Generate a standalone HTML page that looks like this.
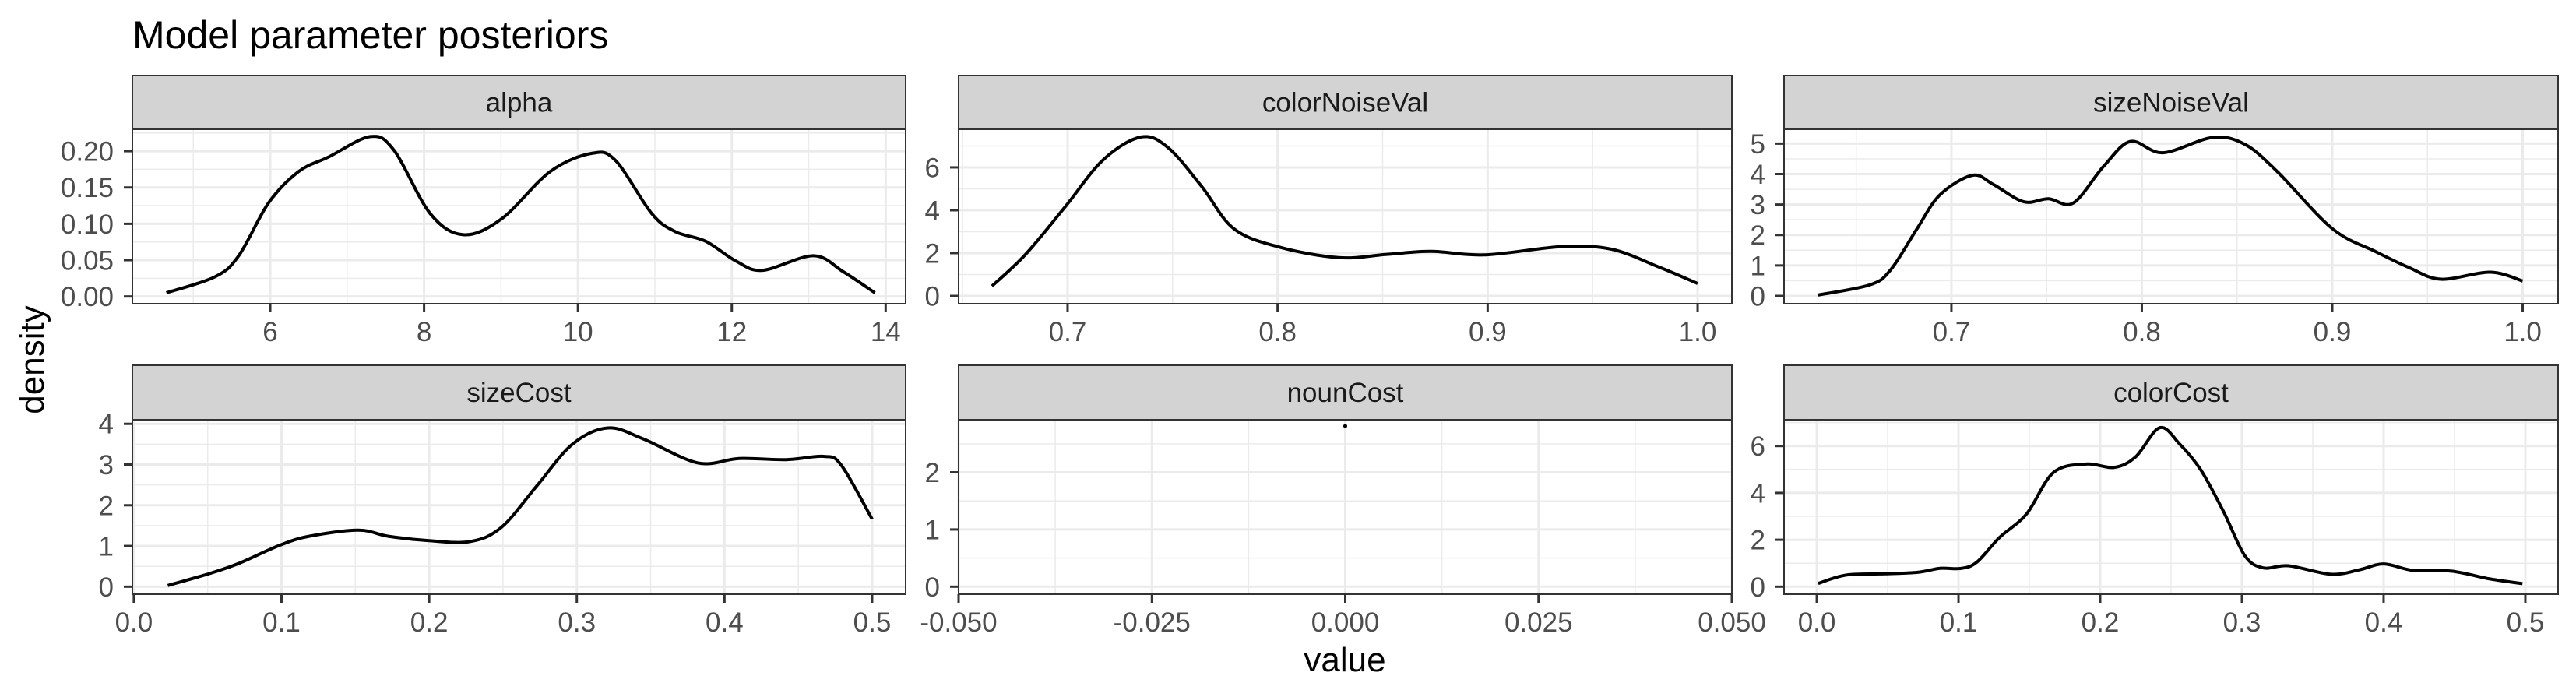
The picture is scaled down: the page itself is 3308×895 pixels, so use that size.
<!DOCTYPE html>
<html>
<head>
<meta charset="utf-8">
<style>
html,body{margin:0;padding:0;background:#fff;}
svg{display:block;font-family:"Liberation Sans",Arial,sans-serif;}
</style>
</head>
<body>
<svg id="chart" width="3308" height="895" viewBox="0 0 3308 895" xmlns="http://www.w3.org/2000/svg">
<rect x="0" y="0" width="3308" height="895" fill="#ffffff"/>
<text x="170" y="62" font-size="50" fill="#000">Model parameter posteriors</text>
<text x="0" y="0" font-size="44" fill="#000" text-anchor="middle" transform="translate(56,462) rotate(-90)">density</text>
<text x="1727" y="862" font-size="44" fill="#000" text-anchor="middle">value</text>
<g id="panels"></g>
</svg>
<script>
// ---- data ----
const panelNames = ["alpha","colorNoiseVal","sizeNoiseVal","sizeCost","nounCost","colorCost"];

const alphaX = [4.65,5.28,5.59,5.98,6.37,6.76,7.30,7.61,8.08,8.51,9.01,9.64,10.18,10.49,10.96,11.27,11.66,12.05,12.40,13.06,13.45,13.86];
const alphaY = [0.005,0.027,0.056,0.129,0.172,0.192,0.220,0.201,0.114,0.085,0.107,0.172,0.197,0.187,0.114,0.089,0.076,0.049,0.036,0.056,0.034,0.005];

const colorNoiseX = [0.664,0.680,0.699,0.717,0.735,0.748,0.764,0.779,0.800,0.829,0.852,0.873,0.899,0.935,0.959,0.982,1.000];
const colorNoiseY = [0.46,1.94,4.18,6.36,7.42,6.91,5.09,3.15,2.30,1.79,1.94,2.08,1.92,2.30,2.18,1.33,0.58];

const sizeNoiseX = [0.630,0.657,0.668,0.682,0.694,0.711,0.722,0.738,0.751,0.764,0.780,0.794,0.811,0.837,0.854,0.871,0.900,0.923,0.940,0.957,0.983,1.000];
const sizeNoiseY = [0.03,0.36,0.85,2.21,3.32,3.96,3.66,3.09,3.19,3.05,4.26,5.07,4.70,5.20,4.98,4.09,2.21,1.45,0.94,0.55,0.78,0.49];

const sizeCostX = [0.023,0.051,0.071,0.099,0.119,0.152,0.172,0.200,0.228,0.249,0.273,0.297,0.321,0.345,0.382,0.410,0.442,0.467,0.479,0.500];
const sizeCostY = [0.03,0.32,0.57,1.02,1.24,1.39,1.24,1.13,1.11,1.46,2.48,3.50,3.90,3.63,3.04,3.15,3.12,3.20,2.99,1.66];

const nounCostX = [0.0];
const nounCostY = [2.81];

const colorCostX = [0.001,0.021,0.048,0.071,0.087,0.102,0.113,0.129,0.148,0.167,0.190,0.210,0.225,0.242,0.256,0.271,0.287,0.302,0.315,0.333,0.363,0.383,0.400,0.421,0.448,0.475,0.498];
const colorCostY = [0.14,0.50,0.55,0.61,0.78,0.78,1.05,2.10,3.10,4.87,5.23,5.09,5.54,6.78,6.09,4.98,3.21,1.33,0.80,0.89,0.53,0.72,0.97,0.69,0.66,0.33,0.13];

const alphaXTicks = [6,8,10,12,14];
const alphaXLabels = ["6","8","10","12","14"];
const alphaYTicks = [0,0.05,0.10,0.15,0.20];
const alphaYLabels = ["0.00","0.05","0.10","0.15","0.20"];
const noiseXTicks = [0.7,0.8,0.9,1.0];
const noiseXLabels = ["0.7","0.8","0.9","1.0"];
const colorNoiseYTicks = [0,2,4,6];
const sizeNoiseYTicks = [0,1,2,3,4,5];
const costXTicks = [0,0.1,0.2,0.3,0.4,0.5];
const costXLabels = ["0.0","0.1","0.2","0.3","0.4","0.5"];
const sizeCostYTicks = [0,1,2,3,4];
const nounXTicks = [-0.05,-0.025,0,0.025,0.05];
const nounXLabels = ["-0.050","-0.025","0.000","0.025","0.050"];
const nounYTicks = [0,1,2];
const colorCostYTicks = [0,2,4,6];

// ---- layout ----
const cols = [[170,1163],[1231,2224],[2291,3285]];
const rows = [{st:97,top:166,bot:390},{st:469,top:539,bot:763}];
const specs = [
 {name:panelNames[0],c:0,r:0,xd:[4.208,14.26],yd:[-0.0100,0.2301],xs:alphaX,ys:alphaY,xt:alphaXTicks,xl:alphaXLabels,yt:alphaYTicks,yl:alphaYLabels},
 {name:panelNames[1],c:1,r:0,xd:[0.6481,1.0163],yd:[-0.364,7.78],xs:colorNoiseX,ys:colorNoiseY,xt:noiseXTicks,xl:noiseXLabels,yt:colorNoiseYTicks,yl:colorNoiseYTicks.map(String)},
 {name:panelNames[2],c:2,r:0,xd:[0.6121,1.0186],yd:[-0.256,5.47],xs:sizeNoiseX,ys:sizeNoiseY,xt:noiseXTicks,xl:noiseXLabels,yt:sizeNoiseYTicks,yl:sizeNoiseYTicks.map(String)},
 {name:panelNames[3],c:0,r:1,xd:[-0.001,0.5227],yd:[-0.185,4.10],xs:sizeCostX,ys:sizeCostY,xt:costXTicks,xl:costXLabels,yt:sizeCostYTicks,yl:sizeCostYTicks.map(String)},
 {name:panelNames[4],c:1,r:1,xd:[-0.05,0.05],yd:[-0.132,2.92],xs:nounCostX,ys:nounCostY,xt:nounXTicks,xl:nounXLabels,yt:nounYTicks,yl:nounYTicks.map(String)},
 {name:panelNames[5],c:2,r:1,xd:[-0.0231,0.5231],yd:[-0.322,7.12],xs:colorCostX,ys:colorCostY,xt:costXTicks,xl:costXLabels,yt:colorCostYTicks,yl:colorCostYTicks.map(String)}
];
const NS="http://www.w3.org/2000/svg";
const root=document.getElementById('panels');
function mk(tag,attrs,parent){const e=document.createElementNS(NS,tag);for(const k in attrs)e.setAttribute(k,attrs[k]);parent.appendChild(e);return e;}

function smoothPath(pts){
  if(pts.length<2)return "";
  let d="M"+pts[0][0].toFixed(1)+","+pts[0][1].toFixed(1);
  for(let i=0;i<pts.length-1;i++){
    const p0=pts[i-1]||pts[i],p1=pts[i],p2=pts[i+1],p3=pts[i+2]||p2;
    const c1=[p1[0]+(p2[0]-p0[0])/6,p1[1]+(p2[1]-p0[1])/6];
    const c2=[p2[0]-(p3[0]-p1[0])/6,p2[1]-(p3[1]-p1[1])/6];
    d+=" C"+c1[0].toFixed(1)+","+c1[1].toFixed(1)+" "+c2[0].toFixed(1)+","+c2[1].toFixed(1)+" "+p2[0].toFixed(1)+","+p2[1].toFixed(1);
  }
  return d;
}

specs.forEach(s=>{
  const L=cols[s.c][0],R=cols[s.c][1],rw=rows[s.r];
  const T=rw.top,B=rw.bot;
  const sx=v=>L+(v-s.xd[0])/(s.xd[1]-s.xd[0])*(R-L);
  const sy=v=>B-(v-s.yd[0])/(s.yd[1]-s.yd[0])*(B-T);
  const g=mk('g',{},root);
  
  
  mk('rect',{x:L,y:T,width:R-L,height:B-T,fill:'#fff'},g);
  // minor grid
  const xs=s.xt[1]-s.xt[0], ys=s.yt[1]-s.yt[0];
  for(let v=s.xt[0]-xs*1.5; v<=s.xd[1]; v+=xs){ if(v>=s.xd[0]){const ln=mk('line',{x1:sx(v),x2:sx(v),y1:T,y2:B,stroke:'#ebebeb','stroke-width':1.5},g);} }
  for(let v=s.yt[0]-ys*1.5; v<=s.yd[1]; v+=ys){ if(v>=s.yd[0]){const ln=mk('line',{x1:L,x2:R,y1:sy(v),y2:sy(v),stroke:'#ebebeb','stroke-width':1.5},g);} }
  // major grid + ticks
  s.xt.forEach((v,i)=>{
    const x=sx(v);
    const gl=mk('line',{x1:x,x2:x,y1:T,y2:B,stroke:'#ebebeb','stroke-width':3},g);
    
    
    const tk=mk('line',{x1:x,x2:x,y1:B,y2:B+11,stroke:'#333','stroke-width':3},g);
    
    
    const t=mk('text',{x:x,y:B+48,'font-size':35,fill:'#4d4d4d','text-anchor':'middle'},g);
    t.textContent=s.xl[i];
    
    
  });
  s.yt.forEach((v,i)=>{
    const y=sy(v);
    const gl=mk('line',{x1:L,x2:R,y1:y,y2:y,stroke:'#ebebeb','stroke-width':3},g);
    
    
    const tk=mk('line',{x1:L-11,x2:L,y1:y,y2:y,stroke:'#333','stroke-width':3},g);
    
    
    const t=mk('text',{x:L-24,y:y+12.5,'font-size':35,fill:'#4d4d4d','text-anchor':'end'},g);
    t.textContent=s.yl[i];
    
    
  });
  // series
  const pts=s.xs.map((v,i)=>[sx(v),sy(s.ys[i])]);
  if(pts.length>1){
    const p=mk('path',{d:smoothPath(pts),fill:'none',stroke:'#000','stroke-width':4,'stroke-linejoin':'round','stroke-linecap':'butt'},g);
    
    
  } else {
    const c=mk('circle',{cx:pts[0][0],cy:pts[0][1],r:2.5,fill:'#000'},g);
    
    
  }
  // border
  const bd=mk('rect',{x:L,y:T,width:R-L,height:B-T,fill:'none',stroke:'#333','stroke-width':2},g);
  
  
  // strip
  const st=mk('rect',{x:L,y:rw.st,width:R-L,height:T-rw.st,fill:'#d3d3d3',stroke:'#333','stroke-width':2},g);
  
  
  const stt=mk('text',{x:(L+R)/2,y:(rw.st+T)/2+12,'font-size':35,fill:'#1a1a1a','text-anchor':'middle'},g);
  stt.textContent=s.name;
  
  
});
</script>
</body>
</html>
